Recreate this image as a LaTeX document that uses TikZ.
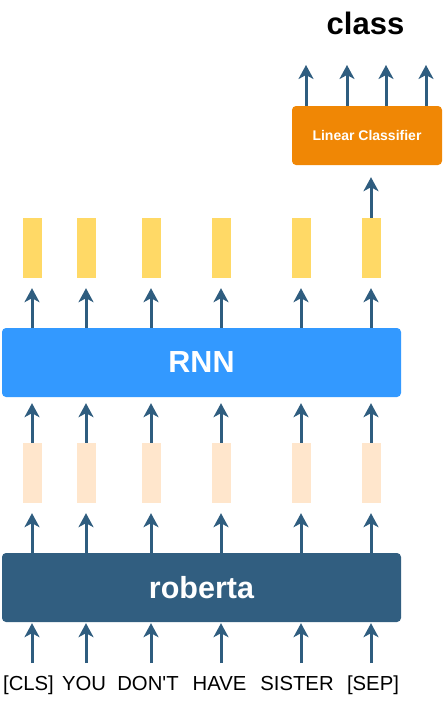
\documentclass[tikz,border=0pt]{standalone}
\usepackage{fontspec}
\setmainfont{Liberation Sans}
\usetikzlibrary{arrows.meta}
\definecolor{arrowblue}{HTML}{2F5D7F}
\definecolor{robblue}{HTML}{315E80}
\definecolor{rnnblue}{HTML}{3399FF}
\definecolor{vecyellow}{HTML}{FFD966}
\definecolor{vecpeach}{HTML}{FFE6CC}
\definecolor{lcorange}{HTML}{F08705}
\begin{document}
\begin{tikzpicture}[x=1pt,y=-1pt,
  arr/.style={draw=arrowblue, line width=3pt, -{Stealth[length=14pt,width=15pt,inset=4pt]}},
  bigbox/.style={rounded corners=4pt, minimum width=399pt, minimum height=69pt, inner sep=0pt, text=white, font=\fontsize{30.5}{36}\selectfont\bfseries},
  vecbox/.style={minimum width=19pt, minimum height=60pt, inner sep=0pt},
  tok/.style={font=\fontsize{20.3}{24}\selectfont, anchor=base, inner sep=0pt}]
\useasboundingbox (0,0) rectangle (444,704);

\node[bigbox, fill=robblue] (rob) at (201.5,587.5) {roberta};
\node[bigbox, fill=rnnblue] (rnn) at (201.5,362.5) {RNN};
\node[rounded corners=4pt, fill=lcorange, minimum width=150pt, minimum height=59pt, inner sep=0pt, text=white, font=\fontsize{14}{17}\selectfont\bfseries] (lc) at (367,135.5) {Linear Classifier};
\node[font=\fontsize{31}{36}\selectfont\bfseries, inner sep=0pt] (cls) at (365.5,23) {class};

\foreach \i/\x in {1/32,2/86,3/151,4/221,5/301,6/371}{
  \node[vecbox, fill=vecpeach] (p\i) at (\x,473) {};
  \node[vecbox, fill=vecyellow] (y\i) at (\x,248) {};
  \coordinate (s\i) at (\x,663);
}
\foreach \i/\x/\t in {1/28.5/{[CLS]},2/84/{YOU},3/148/{DON\textquotesingle T},4/219.5/{HAVE},5/297/{SISTER},6/373/{[SEP]}}{
  \node[tok] (t\i) at (\x,690) {\t};
}
\foreach \i/\x in {1/306,2/347,3/386,4/426}{
  \coordinate (o\i) at (\x,65);
}

\foreach \i in {1,...,6}{
  \draw[arr, shorten >=1pt] (s\i) -- (s\i |- rob.south);
  \draw[arr, shorten >=10pt] (p\i |- rob.north) -- (p\i.south);
  \draw[arr, shorten >=6pt] (p\i.north) -- (p\i |- rnn.south);
  \draw[arr, shorten >=10pt] (y\i |- rnn.north) -- (y\i.south);
}
\draw[arr, shorten >=12pt] (y6.north) -- (y6 |- lc.south);
\foreach \i in {1,...,4}{
  \draw[arr] (o\i |- lc.north) -- (o\i);
}
\end{tikzpicture}
\end{document}
